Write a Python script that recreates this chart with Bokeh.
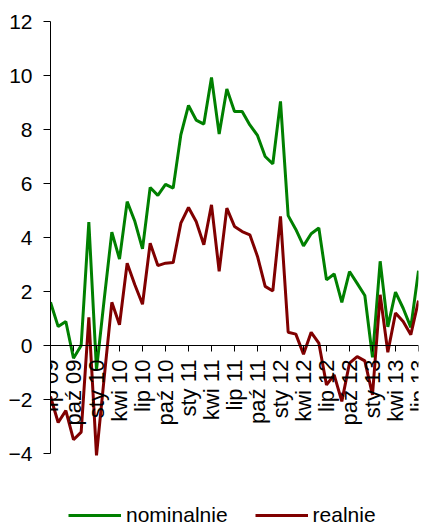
import math
from bokeh.plotting import figure
from bokeh.models import Range1d, FixedTicker, Legend, LegendItem
from bokeh.embed import file_html
from bokeh.resources import INLINE

months = ["lip 09", "paź 09", "sty 10", "kwi 10", "lip 10", "paź 10", "sty 11", "kwi 11",
          "lip 11", "paź 11", "sty 12", "kwi 12", "lip 12", "paź 12", "sty 13", "kwi 13", "lip 13"]

nominalnie = [1.6, 0.7, 0.89, -0.47, 0.0, 4.57, -0.9, 1.7, 4.2, 3.2, 5.33, 4.6, 3.58,
              5.85, 5.56, 5.97, 5.83, 7.8, 8.89, 8.35, 8.2, 9.93, 7.83, 9.5, 8.67,
              8.67, 8.17, 7.78, 7.0, 6.73, 9.04, 4.81, 4.3, 3.69, 4.14, 4.35, 2.43,
              2.65, 1.6, 2.74, 2.3, 1.85, -0.44, 3.12, 0.69, 1.98, 1.38, 0.67, 2.77]

realnie = [-1.89, -2.85, -2.41, -3.49, -3.21, 1.04, -4.07, -1.2, 1.6, 0.77, 3.05, 2.25, 1.53,
           3.79, 2.96, 3.05, 3.07, 4.53, 5.11, 4.59, 3.73, 5.21, 2.75, 5.09, 4.41,
           4.22, 4.1, 3.3, 2.19, 2.02, 4.78, 0.49, 0.42, -0.32, 0.49, 0.09, -1.46,
           -1.09, -2.07, -0.65, -0.41, -0.57, -1.83, 1.88, -0.25, 1.2, 0.89, 0.4, 1.66]

x = list(range(len(nominalnie)))
tick_pos = list(range(0, len(nominalnie), 3))

W, H = 430, 527
left, right, top, bottom = 50, 12, 21, 0
frame_h = H - top - bottom
ppu = 27.0
ymin = 12 - frame_h / ppu

p = figure(width=W, height=H, output_backend="svg", toolbar_location=None,
           x_range=Range1d(0, 48), y_range=Range1d(ymin, 12),
           min_border_left=left, min_border_right=right,
           min_border_top=top, min_border_bottom=bottom)
p.outline_line_color = None
p.grid.visible = False
p.background_fill_color = "white"
p.border_fill_color = "white"

g = p.line(x, nominalnie, line_color="#008000", line_width=3)
r = p.line(x, realnie, line_color="#800000", line_width=3)

# y axis
ya = p.yaxis[0]
ya.bounds = (-4, 12)
ya.ticker = FixedTicker(ticks=[-4, -2, 0, 2, 4, 6, 8, 10, 12])
ya.major_tick_out = 7
ya.major_tick_in = 0
ya.minor_tick_line_color = None
ya.major_label_text_font = "Liberation Sans"
ya.major_label_text_font_size = "21px"
ya.major_label_text_color = "black"
ya.major_label_standoff = 11
ya.axis_line_color = "black"
ya.major_tick_line_color = "black"

# x axis crossing at zero
xa = p.xaxis[0]
xa.fixed_location = 0
xa.ticker = FixedTicker(ticks=tick_pos)
xa.major_label_overrides = {t: months[i] for i, t in enumerate(tick_pos)}
xa.major_label_orientation = math.pi / 2
xa.major_tick_out = 6
xa.major_tick_in = 0
xa.minor_tick_line_color = None
xa.major_label_text_font = "Liberation Sans"
xa.major_label_text_font_size = "22px"
xa.major_label_text_color = "black"
xa.major_label_standoff = 8
xa.axis_line_color = "black"

legend = Legend(items=[LegendItem(label="nominalnie", renderers=[g]),
                       LegendItem(label="realnie", renderers=[r])],
                orientation="horizontal", location=(18, 0),
                border_line_color=None, background_fill_alpha=0,
                padding=0, margin=0, spacing=27, glyph_width=53, glyph_height=20,
                label_standoff=5, label_text_font="Liberation Sans",
                label_text_font_size="21px", label_text_color="black")
p.add_layout(legend, "center")

open("out.html", "w").write(file_html(p, INLINE))
